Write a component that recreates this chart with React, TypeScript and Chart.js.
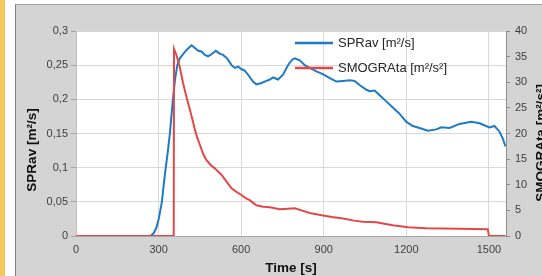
import React, { useEffect, useRef } from "react";
import { Chart, registerables } from "chart.js";

Chart.register(...registerables);

const FONT = '"Liberation Sans", Arial, Helvetica, sans-serif';

// Time axis ticks and value axes ticks
const xTickValues = [0, 300, 600, 900, 1200, 1500];
const leftTickValues = [0, 0.05, 0.1, 0.15, 0.2, 0.25, 0.3];
const rightTickValues = [0, 5, 10, 15, 20, 25, 30, 35, 40];

const xTitle = "Time [s]";
const leftTitle = "SPRav [m²/s]";
const rightTitle = "SMOGRAta [m²/s²]";
const sprLabel = "SPRav [m²/s]";
const smogLabel = "SMOGRAta [m²/s²]";

// SPRav series
const sprTime = [
  0, 270, 282, 292, 300, 312, 320, 326, 334, 341, 352, 360, 368, 377, 389, 401, 414, 420, 432, 444,
  456, 468, 480, 492, 508, 522, 534, 549, 565, 577, 589, 601, 613, 625, 643, 655, 674, 692, 704, 716,
  734, 752, 770, 785, 795, 813, 831, 849, 873, 897, 922, 946, 970, 994, 1012, 1030, 1055, 1067, 1085,
  1103, 1127, 1151, 1175, 1200, 1224, 1248, 1278, 1309, 1327, 1357, 1393, 1436, 1466, 1502, 1520,
  1538, 1550, 1560,
];
const sprValues = [
  0, 0, 0.004, 0.012, 0.024, 0.05, 0.08, 0.1, 0.125, 0.15, 0.2, 0.23, 0.25, 0.26, 0.266, 0.272, 0.277,
  0.279, 0.275, 0.271, 0.27, 0.265, 0.263, 0.266, 0.271, 0.267, 0.265, 0.26, 0.25, 0.246, 0.248, 0.244,
  0.242, 0.236, 0.226, 0.222, 0.224, 0.227, 0.229, 0.232, 0.229, 0.236, 0.25, 0.258, 0.26, 0.257, 0.25,
  0.246, 0.241, 0.237, 0.231, 0.226, 0.227, 0.228, 0.227, 0.221, 0.214, 0.212, 0.213, 0.206, 0.197,
  0.188, 0.179, 0.167, 0.161, 0.158, 0.154, 0.156, 0.159, 0.158, 0.164, 0.167, 0.165, 0.159, 0.161,
  0.153, 0.143, 0.131,
];

// SMOGRAta series
const smogTime = [
  0, 355, 356, 365, 377, 389, 401, 414, 425, 432, 440, 450, 462, 474, 490, 504, 529, 548, 565, 583, 601,
  616, 631, 655, 680, 704, 740, 770, 795, 825, 849, 897, 930, 970, 1010, 1042, 1091, 1120, 1151, 1206,
  1272, 1393, 1496, 1500, 1560,
];
const smogValues = [
  0, 0, 36.5, 35.3, 33.0, 29.8, 27.2, 24.6, 22.3, 20.7, 19.3, 17.8, 16.0, 14.8, 13.8, 13.2, 11.9, 10.5,
  9.3, 8.6, 8.0, 7.4, 7.0, 6.0, 5.7, 5.6, 5.2, 5.3, 5.4, 4.9, 4.5, 4.0, 3.7, 3.4, 3.0, 2.8, 2.7, 2.4, 2.1,
  1.7, 1.5, 1.4, 1.3, 0, 0,
];

const plotBg = {
  id: "plotBg",
  beforeDraw(chart: any) {
    const { ctx, chartArea: a } = chart;
    ctx.save();
    ctx.fillStyle = "#ffffff";
    ctx.fillRect(a.left, a.top, a.right - a.left, a.bottom - a.top);
    ctx.restore();
  },
};

const overlay = {
  id: "overlay",
  afterDraw(chart: any) {
    const { ctx, chartArea: a } = chart;
    ctx.save();
    // legend inside plot area
    const lx = a.left + 219;
    chart.data.datasets.forEach((ds: any, i: number) => {
      const y = a.top + 12 + i * 25;
      ctx.strokeStyle = ds.borderColor;
      ctx.lineWidth = 2.5;
      ctx.beginPath();
      ctx.moveTo(lx, y);
      ctx.lineTo(lx + 38, y);
      ctx.stroke();
      ctx.fillStyle = "#262626";
      ctx.font = `13px ${FONT}`;
      ctx.textAlign = "left";
      ctx.textBaseline = "middle";
      ctx.fillText(ds.label, lx + 43, y + 0.5);
    });
    // axis titles
    ctx.fillStyle = "#111111";
    ctx.font = `bold 13.5px ${FONT}`;
    ctx.textAlign = "center";
    ctx.textBaseline = "alphabetic";
    ctx.fillText(xTitle, (a.left + a.right) / 2, a.bottom + 36);
    ctx.textBaseline = "middle";
    ctx.save();
    ctx.translate(16, a.top + 119);
    ctx.rotate(-Math.PI / 2);
    ctx.fillText(leftTitle, 0, 0);
    ctx.restore();
    ctx.save();
    ctx.translate(a.right + 35, a.top + 112);
    ctx.rotate(-Math.PI / 2);
    ctx.fillText(rightTitle, 0, 0);
    ctx.restore();
    ctx.restore();
  },
};

export default function App() {
  const ref = useRef<HTMLCanvasElement>(null);

  useEffect(() => {
    if (!ref.current) return;
    const sprData = sprTime.map((t, i) => ({ x: t, y: sprValues[i] }));
    const smogData = smogTime.map((t, i) => ({ x: t, y: smogValues[i] }));
    const tickFont = { family: FONT, size: 11 };
    const chart = new Chart(ref.current, {
      type: "line",
      data: {
        datasets: [
          {
            label: sprLabel,
            data: sprData,
            borderColor: "#1f7ac6",
            borderWidth: 2,
            pointRadius: 0,
            tension: 0,
            yAxisID: "y",
            order: 1,
          },
          {
            label: smogLabel,
            data: smogData,
            borderColor: "#e34848",
            borderWidth: 2,
            pointRadius: 0,
            tension: 0,
            yAxisID: "y2",
            order: 0,
          },
        ],
      },
      options: {
        responsive: false,
        animation: false,
        devicePixelRatio: 1,
        layout: { padding: { top: 26, left: 0, right: 0, bottom: 0 } },
        plugins: { legend: { display: false }, tooltip: { enabled: false } },
        scales: {
          x: {
            type: "linear",
            min: 0,
            max: 1562,
            afterBuildTicks: (s: any) => {
              s.ticks = xTickValues.map((value) => ({ value }));
            },
            afterFit: (s: any) => {
              s.height = 40;
            },
            grid: { color: "#d9d9d9", drawTicks: false },
            border: { color: "#a6a6a6" },
            ticks: {
              padding: 7,
              color: "#404040",
              font: tickFont,
              maxRotation: 0,
              autoSkip: false,
              callback: (v: any) => String(v),
            },
          },
          y: {
            position: "left",
            min: 0,
            max: 0.3,
            afterBuildTicks: (s: any) => {
              s.ticks = leftTickValues.map((value) => ({ value }));
            },
            afterFit: (s: any) => {
              s.width = 60;
            },
            grid: { color: "#d9d9d9", tickLength: 5, tickColor: "#a6a6a6" },
            border: { color: "#bfbfbf" },
            ticks: {
              padding: 3,
              color: "#404040",
              font: tickFont,
              callback: (v: any) => String(+Number(v).toFixed(2)).replace(".", ","),
            },
          },
          y2: {
            position: "right",
            min: 0,
            max: 40,
            afterBuildTicks: (s: any) => {
              s.ticks = rightTickValues.map((value) => ({ value }));
            },
            afterFit: (s: any) => {
              s.width = 36;
            },
            grid: { drawOnChartArea: false, tickLength: 4, tickColor: "#8c8c8c" },
            border: { color: "#8c8c8c" },
            ticks: { padding: 5, color: "#404040", font: tickFont, callback: (v: any) => String(v) },
          },
        },
      },
      plugins: [plotBg, overlay],
    } as any);
    return () => chart.destroy();
  }, []);

  return (
    <div style={{ position: "fixed", left: 0, top: 0, width: 542, height: 276, background: "#ffffff", overflow: "hidden" }}>
      <div style={{ position: "absolute", left: 0, top: 0, width: 5, height: 276, background: "#f3c65e" }} />
      <div
        style={{
          position: "absolute",
          left: 15,
          top: 4,
          width: 540,
          height: 290,
          background: "#d4d4d4",
          borderLeft: "1px solid #7f7f7f",
          borderTop: "1px solid #a0a0a0",
        }}
      />
      <canvas
        ref={ref}
        width={526}
        height={271}
        style={{ position: "absolute", left: 16, top: 5, width: 526, height: 271, display: "block" }}
      />
    </div>
  );
}
